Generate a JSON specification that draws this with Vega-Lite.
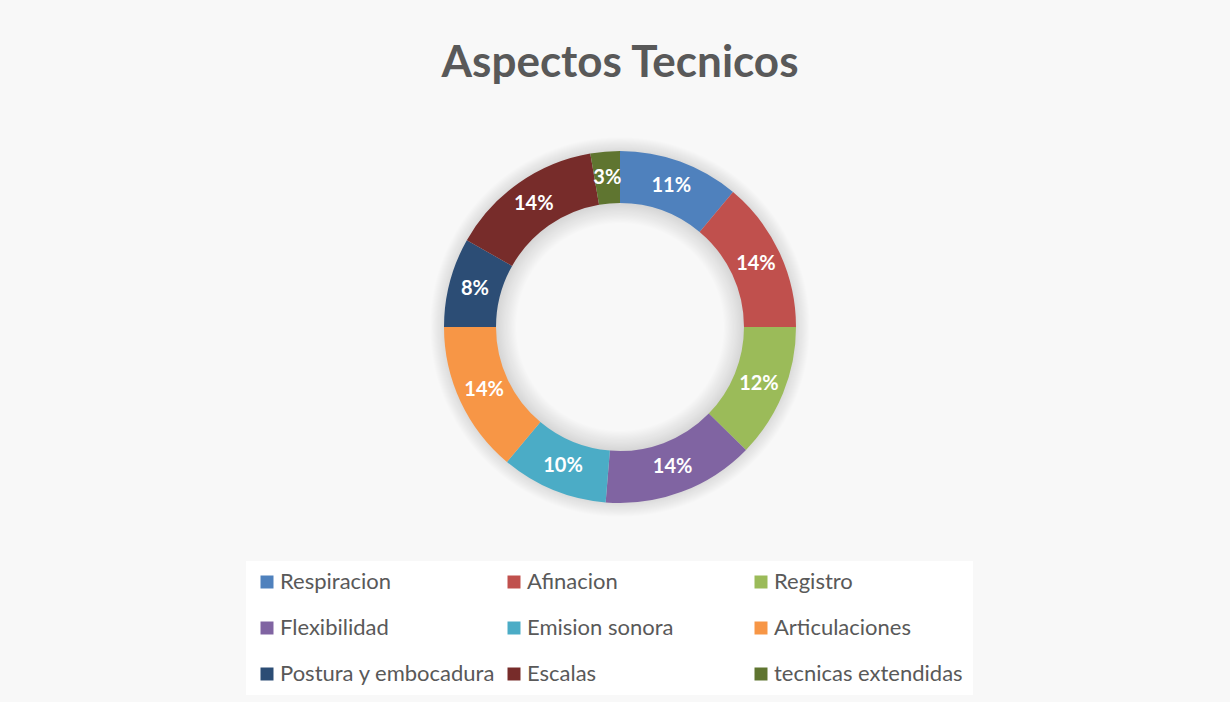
{
  "$schema": "https://vega.github.io/schema/vega-lite/v6.json",
  "width": 1240,
  "height": 654,
  "autosize": {"type": "none"},
  "padding": {"left": 0, "top": 0, "right": 0, "bottom": 48},
  "background": "#f8f8f8",
  "view": {"stroke": null},
  "title": {
    "text": "Aspectos Tecnicos",
    "anchor": "middle",
    "font": "Lato",
    "fontSize": 44,
    "fontWeight": "bold",
    "color": "#595959",
    "baseline": "alphabetic",
    "dy": 125
  },
  "data": {
    "values": [
      {"aspecto": "Respiracion", "proporcion": 0.111, "orden": 1},
      {"aspecto": "Afinacion", "proporcion": 0.139, "orden": 2},
      {"aspecto": "Registro", "proporcion": 0.123, "orden": 3},
      {"aspecto": "Flexibilidad", "proporcion": 0.140, "orden": 4},
      {"aspecto": "Emision sonora", "proporcion": 0.098, "orden": 5},
      {"aspecto": "Articulaciones", "proporcion": 0.139, "orden": 6},
      {"aspecto": "Postura y embocadura", "proporcion": 0.082, "orden": 7},
      {"aspecto": "Escalas", "proporcion": 0.141, "orden": 8},
      {"aspecto": "tecnicas extendidas", "proporcion": 0.027, "orden": 9}
    ]
  },
  "layer": [
    {
      "data": {"values": [{"capa": "sombra"}]},
      "mark": {
        "type": "arc",
        "theta": 0,
        "theta2": 6.2832,
        "radius": 195,
        "radius2": 100,
        "fill": {
          "gradient": "radial",
          "x1": 0.5, "y1": 0.5, "r1": 0,
          "x2": 0.5, "y2": 0.5, "r2": 0.5,
          "stops": [
            {"offset": 0, "color": "rgba(0,0,0,0)"},
            {"offset": 0.53, "color": "rgba(0,0,0,0)"},
            {"offset": 0.636, "color": "rgba(0,0,0,0.14)"},
            {"offset": 0.9, "color": "rgba(0,0,0,0.12)"},
            {"offset": 0.975, "color": "rgba(0,0,0,0)"},
            {"offset": 1, "color": "rgba(0,0,0,0)"}
          ]
        }
      },
      "encoding": {}
    },
    {
      "mark": {"type": "arc", "radius": 176, "radius2": 124},
      "encoding": {
        "theta": {"field": "proporcion", "type": "quantitative", "stack": true},
        "order": {"field": "orden", "type": "quantitative"},
        "color": {
          "field": "aspecto",
          "type": "nominal",
          "scale": {
            "domain": ["Respiracion", "Afinacion", "Registro", "Flexibilidad", "Emision sonora", "Articulaciones", "Postura y embocadura", "Escalas", "tecnicas extendidas"],
            "range": ["#4F81BD", "#C0504D", "#9BBB59", "#8064A2", "#4BACC6", "#F79646", "#2C4D75", "#772C2A", "#5F7530"]
          },
          "legend": {
            "title": null,
            "orient": "none",
            "direction": "horizontal",
            "legendX": 246,
            "legendY": 561,
            "columns": 3,
            "gridAlign": "all",
            "columnPadding": 7,
            "rowPadding": 24,
            "symbolType": "square",
            "symbolSize": 169,
            "symbolStrokeWidth": 0,
            "labelFont": "Lato",
            "labelFontSize": 22,
            "labelColor": "#595959",
            "labelOffset": 2,
            "labelLimit": 400,
            "fillColor": "white",
            "padding": 10
          }
        }
      }
    },
    {
      "mark": {"type": "text", "radius": 150, "font": "Lato", "fontSize": 20, "fontWeight": "bold", "fill": "white"},
      "encoding": {
        "theta": {"field": "proporcion", "type": "quantitative", "stack": true},
        "order": {"field": "orden", "type": "quantitative"},
        "text": {"field": "proporcion", "type": "quantitative", "format": ".0%"}
      }
    }
  ]
}
